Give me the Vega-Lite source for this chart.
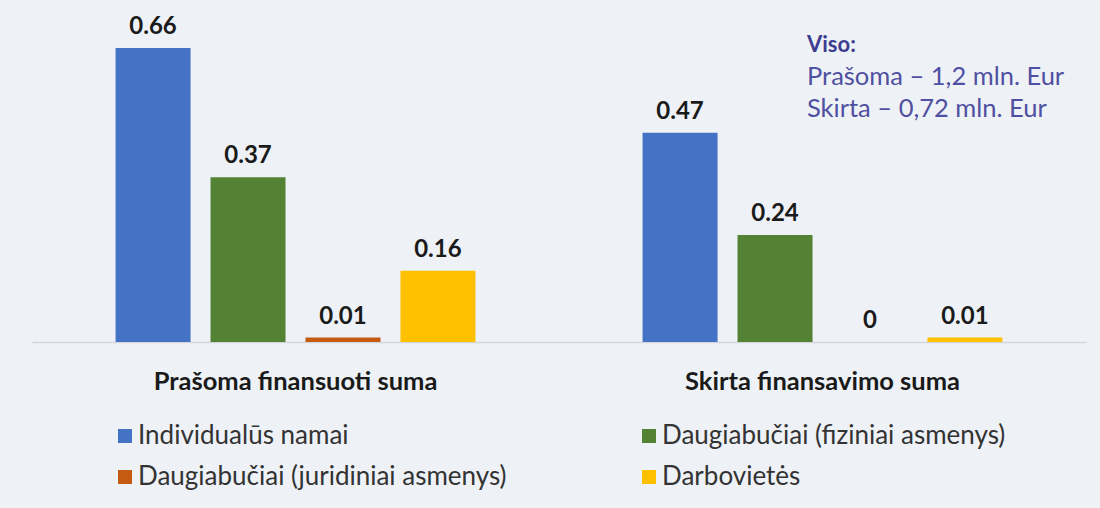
{
  "$schema": "https://vega.github.io/schema/vega-lite/v6.json",
  "width": 1054,
  "height": 335,
  "padding": {"left": 32, "top": 7, "right": 14, "bottom": 18},
  "background": "#eef2f6",
  "config": {"view": {"stroke": null}, "font": "Lato"},
  "datasets": {
    "bars": [
      {"group": "Prašoma finansuoti suma", "type": "Individualūs namai", "value": 0.66},
      {"group": "Prašoma finansuoti suma", "type": "Daugiabučiai (fiziniai asmenys)", "value": 0.37},
      {"group": "Prašoma finansuoti suma", "type": "Daugiabučiai (juridiniai asmenys)", "value": 0.01},
      {"group": "Prašoma finansuoti suma", "type": "Darbovietės", "value": 0.16},
      {"group": "Skirta finansavimo suma", "type": "Individualūs namai", "value": 0.47},
      {"group": "Skirta finansavimo suma", "type": "Daugiabučiai (fiziniai asmenys)", "value": 0.24},
      {"group": "Skirta finansavimo suma", "type": "Daugiabučiai (juridiniai asmenys)", "value": 0},
      {"group": "Skirta finansavimo suma", "type": "Darbovietės", "value": 0.01}
    ],
    "note": [{"head": "Viso:", "lines": ["Prašoma  – 1,2 mln. Eur", "Skirta – 0,72 mln. Eur"]}]
  },
  "layer": [
    {
      "data": {"name": "bars"},
      "mark": {"type": "bar"},
      "encoding": {
        "x": {"field": "group", "type": "nominal", "sort": null,
          "scale": {"paddingInner": 0, "paddingOuter": 0},
          "axis": {"title": null, "labelAngle": 0, "labelFontSize": 25.5, "labelFontWeight": "bold", "labelColor": "#1a1a1a", "labelLimit": 600, "ticks": false, "domainColor": "#d3d7db", "domainWidth": 1.5, "labelPadding": 27, "labelBaseline": "top"}},
        "xOffset": {"field": "type", "type": "nominal",
          "sort": ["Individualūs namai", "Daugiabučiai (fiziniai asmenys)", "Daugiabučiai (juridiniai asmenys)", "Darbovietės"],
          "scale": {"paddingInner": 0.21, "paddingOuter": 0.88}},
        "y": {"field": "value", "type": "quantitative", "scale": {"domain": [0, 0.752], "nice": false}, "axis": null},
        "color": {"field": "type", "type": "nominal",
          "scale": {"domain": ["Individualūs namai", "Daugiabučiai (juridiniai asmenys)", "Daugiabučiai (fiziniai asmenys)", "Darbovietės"],
                    "range": ["#4472c4", "#c55a11", "#548235", "#ffc000"]},
          "legend": {"title": null, "orient": "none", "legendX": 80, "legendY": 416, "columns": 2, "columnPadding": 129, "rowPadding": 15,
            "symbolType": "square", "symbolSize": 196, "symbolStrokeWidth": 0, "symbolOpacity": 1, "labelFontSize": 26, "labelColor": "#333333", "labelOffset": 0, "labelLimit": 600}}
      }
    },
    {
      "data": {"name": "bars"},
      "mark": {"type": "text", "dy": -21, "fontSize": 24, "fontWeight": "bold", "color": "#1a1a1a"},
      "encoding": {
        "x": {"field": "group", "type": "nominal", "sort": null},
        "xOffset": {"field": "type", "type": "nominal",
          "sort": ["Individualūs namai", "Daugiabučiai (fiziniai asmenys)", "Daugiabučiai (juridiniai asmenys)", "Darbovietės"]},
        "y": {"field": "value", "type": "quantitative"},
        "text": {"field": "value", "type": "quantitative"}
      }
    },
    {
      "data": {"name": "note"},
      "mark": {"type": "text", "align": "left", "baseline": "middle", "dx": -15.5, "fontSize": 22, "fontWeight": "bold", "color": "#3d3d8f"},
      "encoding": {
        "x": {"datum": "Skirta finansavimo suma"},
        "y": {"datum": 0.667},
        "text": {"field": "head"}
      }
    },
    {
      "data": {"name": "note"},
      "mark": {"type": "text", "align": "left", "baseline": "middle", "dx": -15.5, "fontSize": 25.5, "lineHeight": 32, "color": "#5050a2"},
      "encoding": {
        "x": {"datum": "Skirta finansavimo suma"},
        "y": {"datum": 0.595},
        "text": {"field": "lines"}
      }
    }
  ]
}
